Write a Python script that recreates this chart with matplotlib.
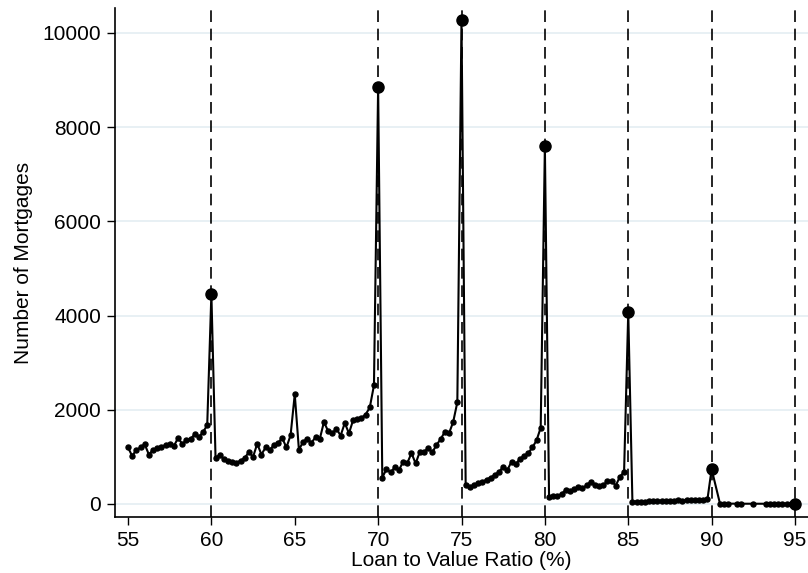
import matplotlib
matplotlib.use("Agg")
import matplotlib.pyplot as plt
import numpy as np

plt.rcParams['font.family'] = ['Liberation Sans', 'DejaVu Sans']

# Loan-to-value ratio (%) and number of mortgages
ltv_55_60 = [55, 55.25, 55.5, 55.75, 56, 56.25, 56.5, 56.75, 57, 57.25, 57.5, 57.75,
             58, 58.25, 58.5, 58.75, 59, 59.25, 59.5, 59.75]
cnt_55_60 = [1200, 1020, 1150, 1200, 1270, 1050, 1150, 1180, 1220, 1250, 1270, 1230,
             1400, 1280, 1350, 1380, 1480, 1420, 1530, 1670]

ltv_60_70 = [60, 60.25, 60.5, 60.75, 61, 61.25, 61.5, 61.75, 62, 62.25, 62.5, 62.75,
             63, 63.25, 63.5, 63.75, 64, 64.25, 64.5, 64.75, 65, 65.25, 65.5, 65.75,
             66, 66.25, 66.5, 66.75, 67, 67.25, 67.5, 67.75, 68, 68.25, 68.5, 68.75,
             69, 69.25, 69.5, 69.75]
cnt_60_70 = [4460, 970, 1050, 950, 920, 890, 880, 920, 980, 1100, 1000, 1280,
             1050, 1200, 1150, 1250, 1300, 1400, 1200, 1460, 2330, 1150, 1320, 1380,
             1300, 1420, 1380, 1740, 1550, 1500, 1600, 1450, 1720, 1500, 1780, 1800,
             1830, 1900, 2050, 2520]

ltv_70_75 = [70, 70.25, 70.5, 70.75, 71, 71.25, 71.5, 71.75, 72, 72.25, 72.5, 72.75,
             73, 73.25, 73.5, 73.75, 74, 74.25, 74.5, 74.75]
cnt_70_75 = [8850, 560, 740, 670, 780, 720, 900, 870, 1080, 860, 1110, 1110,
             1180, 1100, 1250, 1380, 1530, 1500, 1740, 2160]

ltv_75_80 = [75, 75.25, 75.5, 75.75, 76, 76.25, 76.5, 76.75, 77, 77.25, 77.5, 77.75,
             78, 78.25, 78.5, 78.75, 79, 79.25, 79.5, 79.75]
cnt_75_80 = [10280, 400, 370, 400, 450, 470, 520, 560, 620, 680, 790, 720,
             900, 840, 960, 1020, 1080, 1200, 1350, 1620]

ltv_80_85 = [80, 80.25, 80.5, 80.75, 81, 81.25, 81.5, 81.75, 82, 82.25, 82.5, 82.75,
             83, 83.25, 83.5, 83.75, 84, 84.25, 84.5, 84.75]
cnt_80_85 = [7600, 150, 165, 180, 210, 300, 280, 310, 360, 330, 400, 470,
             400, 390, 400, 480, 490, 390, 580, 680]

ltv_85_90 = [85, 85.25, 85.5, 85.75, 86, 86.25, 86.5, 86.75, 87, 87.25, 87.5, 87.75,
             88, 88.25, 88.5, 88.75, 89, 89.25, 89.5, 89.75]
cnt_85_90 = [4070, 50, 50, 40, 50, 55, 60, 55, 70, 60, 65, 70,
             75, 70, 80, 85, 90, 95, 95, 100]

ltv_90_95 = [90, 90.5, 90.75, 91, 91.5, 91.75, 92.5, 93.25, 93.5, 93.75, 94, 94.25,
             94.5, 94.75, 95]
cnt_90_95 = [740, 10, 8, 8, 6, 6, 5, 5, 5, 5, 5, 5, 5, 5, 10]

round_ltv = [60, 70, 75, 80, 85, 90, 95]
x_ticks = [55, 60, 65, 70, 75, 80, 85, 90, 95]
y_ticks = [0, 2000, 4000, 6000, 8000, 10000]

ltv = np.array(ltv_55_60 + ltv_60_70 + ltv_70_75 + ltv_75_80 + ltv_80_85 + ltv_85_90 + ltv_90_95)
cnt = np.array(cnt_55_60 + cnt_60_70 + cnt_70_75 + cnt_75_80 + cnt_80_85 + cnt_85_90 + cnt_90_95)

fig = plt.figure(figsize=(8.08, 5.73), dpi=100)
ax = fig.add_axes([115/808, 56/573, 1 - 115/808, (517 - 8)/573])

ax.set_axisbelow(True)
ax.yaxis.grid(True, color='#e4eef2', linewidth=1.2)
ax.xaxis.grid(False)

for v in round_ltv:
    ax.axvline(v, color='black', linestyle=(0, (7, 4)), linewidth=1.2, zorder=1)

ax.plot(ltv, cnt, color='black', linewidth=1.5, marker='o', markersize=3.6, zorder=3)
mask = np.isin(ltv, round_ltv)
ax.plot(ltv[mask], cnt[mask], linestyle='none', marker='o', color='black',
        markersize=8, zorder=4)

ax.set_xlim(54.22, 95.78)
ax.set_ylim(-276, 10530)
ax.set_xticks(x_ticks)
ax.set_yticks(y_ticks)
ax.tick_params(axis='both', labelsize=15, length=6, width=1, direction='out', pad=4)
ax.set_xlabel('Loan to Value Ratio (%)', fontsize=15, labelpad=1)
ax.set_ylabel('Number of Mortgages', fontsize=15, labelpad=7)

for s in ['top', 'right']:
    ax.spines[s].set_visible(False)
for s in ['left', 'bottom']:
    ax.spines[s].set_linewidth(1.2)

fig.savefig('out.png', dpi=100)
